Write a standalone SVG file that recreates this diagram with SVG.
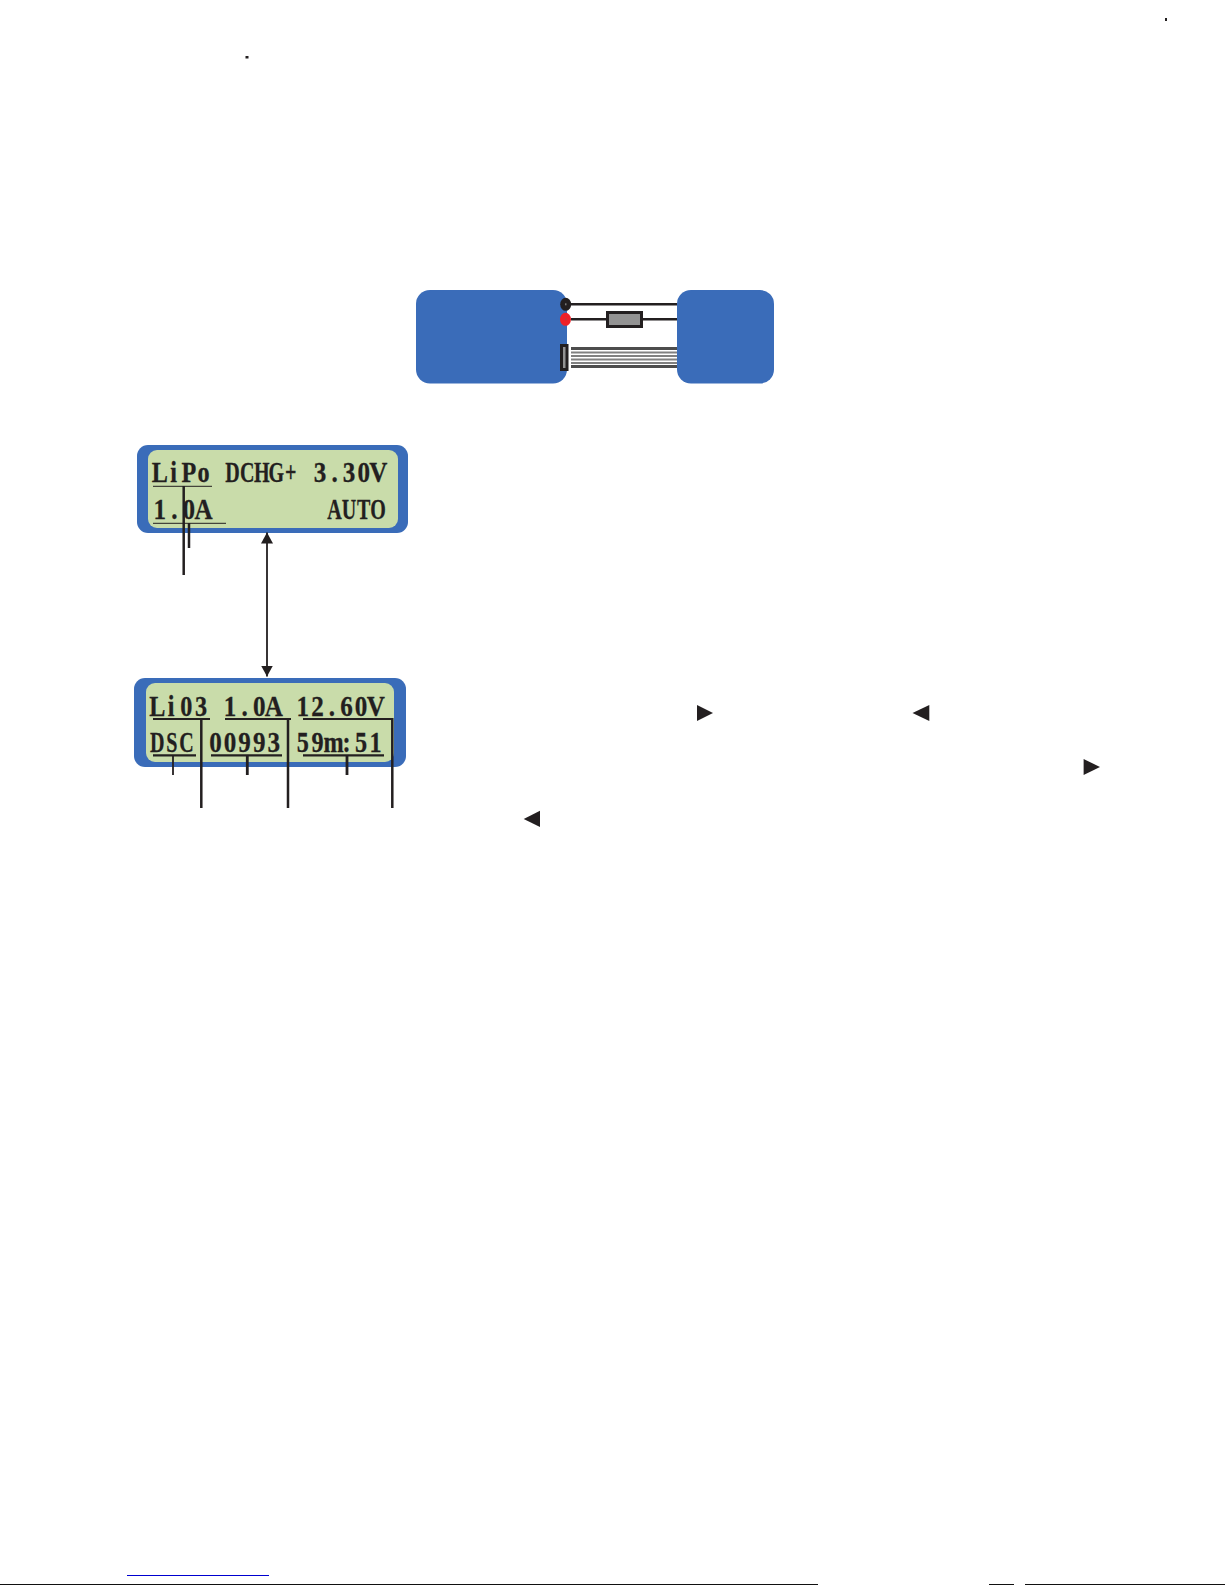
<svg xmlns="http://www.w3.org/2000/svg" width="1225" height="1585" viewBox="0 0 1225 1585">
<style>
.blue{fill:#3a6cb9}
.lcd{fill:#c9dcaa}
.t{font-family:"Liberation Serif",serif;font-weight:700;font-size:29.500px;fill:#231f20;stroke:#231f20;stroke-width:.3px;text-anchor:middle}
.w{stroke:#231f20;fill:none}
.tri{fill:#231f20}
</style>
<defs>
<marker id="ah" markerUnits="userSpaceOnUse" markerWidth="12" markerHeight="12" refX="11" refY="6" orient="auto-start-reverse"><path d="M0 0L11 6L0 12z" fill="#231f20"/></marker>
</defs>
<rect width="1225" height="1585" fill="#fff"/>
<g id="specks"><rect x="245.500" y="56" width="3" height="2.500" fill="#231f20"/><rect x="1165" y="18" width="2" height="3" fill="#231f20"/></g>
<g id="charger"><rect class="blue" x="416" y="290" width="151" height="93.500" rx="14"/></g>
<g id="load"><rect class="blue" x="677" y="290" width="97" height="93.500" rx="14"/></g>
<g id="wiring">
<path class="w" stroke-width="2.500" d="M571 304.300H677M571 319.300H607M642 319.300H677"/>
<ellipse cx="565.700" cy="304.300" rx="5.500" ry="6.500" fill="#231f20"/>
<ellipse cx="565.500" cy="319.300" rx="5.500" ry="6.500" fill="#ee2028"/>
<rect x="565" y="303.300" width="1.500" height="2" fill="#777"/>
<rect x="565" y="318.300" width="1.500" height="2" fill="#b04040"/>
<rect x="607.500" y="312.500" width="34" height="14" fill="#939393" stroke="#231f20" stroke-width="3"/>
<rect x="561.500" y="345.500" width="5.500" height="24" fill="#939393" stroke="#231f20" stroke-width="3"/>
<path fill="none" stroke="#4d4d4d" stroke-width="3" d="M571 348.500H677M571 366.500H677"/>
<path fill="none" stroke="#808080" stroke-width="2.200" d="M571 352.500H677M571 356H677M571 359.500H677M571 363H677"/>
</g>
<g id="lcd1">
<rect class="blue" x="137" y="445" width="271" height="88" rx="11"/>
<rect class="lcd" x="148" y="450" width="250" height="78" rx="9"/>
<text class="t" transform="translate(152.500 481.700) scale(.82 1)" x="8.88 25.630 44.390 62.150">LiPo</text>
<text class="t" transform="translate(225.300 481.700) scale(.68 1)" x="10.700 32.120 53.530 74.940 96.350">DCHG+</text>
<text class="t" transform="translate(312.700 481.700) scale(.85 1)" x="8.560 25.690 42.820 59.960 77.090">3.30V</text>
<text class="t" transform="translate(152.500 519) scale(.85 1)" x="8.560 25.690 42.820 59.960">1.0A</text>
<text class="t" transform="translate(327.200 519) scale(.68 1)" x="10.700 32.120 53.530 74.940">AUTO</text>
</g>
<g id="lcd2">
<rect class="blue" x="134" y="678" width="272" height="89" rx="11"/>
<rect class="lcd" x="146" y="683" width="248" height="79" rx="9"/>
<text class="t" transform="translate(150 715.700) scale(.82 1)" x="8.880 25.630 44.390 62.150">Li03</text>
<text class="t" transform="translate(222.800 715.700) scale(.85 1)" x="8.560 25.690 42.820 59.960">1.0A</text>
<text class="t" transform="translate(295.600 715.700) scale(.85 1)" x="8.560 25.690 42.820 59.960 77.090 94.220">12.60V</text>
<text class="t" transform="translate(150 751.700) scale(.68 1)" x="10.700 32.120 53.530">DSC</text>
<text class="t" transform="translate(208.200 751.700) scale(.85 1)" x="8.560 25.690 42.820 59.960 77.090">00993</text>
<text class="t" transform="translate(295.600 751.700) scale(.82 1)" x="8.880 26.630 46.390 62.150 79.900 97.660">59m:51</text>
</g>
<g id="connectors">
<path class="w" stroke-width="1" d="M153 486.300H212M153 523.300H226"/>
<path class="w" stroke-width="2.500" d="M183.700 486V575M189 523V548"/>
<path class="w" stroke-width="1.800" d="M267 532.500V676.500" marker-start="url(#ah)" marker-end="url(#ah)"/>
<path class="w" stroke-width="2.200" d="M153 719H210M225 719H291M303 719H393M153 755.300H196M211 755.300H282M303 755.300H384"/>
<path class="w" stroke-width="1.800" d="M173 755V775"/>
<path class="w" stroke-width="2.800" d="M247.300 755V775M347 755V775"/>
<path class="w" stroke-width="2.500" d="M201.300 719V808M288 719V808M392.300 718V808"/>
</g>
<g id="arrows">
<path class="tri" d="M697 705L713 713L697 721z"/>
<path class="tri" d="M929.300 705L912.500 713L929.300 721z"/>
<path class="tri" d="M1083.600 759L1100 767L1083.600 775z"/>
<path class="tri" d="M540 810.700L523.700 819L540 827z"/>
</g>
<g id="footer"><rect x="127" y="1575" width="142" height="1" fill="#0000d0"/>
<path d="M0 1584.500H818M989 1584.500H1014M1025 1584.500H1225" stroke="#111" stroke-width="1"/></g>
</svg>
